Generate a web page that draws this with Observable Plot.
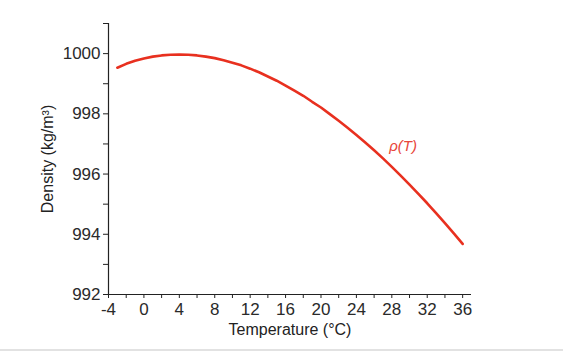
<!DOCTYPE html>
<html>
<head>
<meta charset="utf-8">
<script src="https://cdn.jsdelivr.net/npm/d3@7"></script>
<script src="https://cdn.jsdelivr.net/npm/@observablehq/plot@0.6"></script>
<style>
  html, body { margin: 0; padding: 0; background: #fff; }
  #chart svg { display: block; }
  #rule { height: 2px; background: #e2e2e2; width: 563px; }
</style>
</head>
<body>
<div id="chart"></div>
<div id="rule"></div>
<script>
const temperatures = [-3,-2,-1,0,1,2,3,4,5,6,7,8,9,10,11,12,13,14,15,16,17,18,19,20,21,22,23,24,25,26,27,28,29,30,31,32,33,34,35,36];
const densities = [999.53,999.66,999.76,999.84,999.90,999.94,999.96,999.97,999.96,999.94,999.90,999.85,999.78,999.70,999.61,999.50,999.38,999.24,999.10,998.94,998.77,998.60,998.40,998.21,997.99,997.77,997.54,997.30,997.05,996.79,996.52,996.24,995.95,995.65,995.34,995.03,994.70,994.37,994.03,993.68];
const xMajorTicks = [-4,0,4,8,12,16,20,24,28,32,36];
const xMinorTicks = [-2,2,6,10,14,18,22,26,30,34];
const yMajorTicks = [992,994,996,998,1000];
const yMinorTicks = [993,995,997,999,1001];
const seriesLabel = "ρ(T)";
const labelT = 27.7;
const labelDensity = 996.94;
const xTitle = "Temperature (°C)";
const yTitle = "Density (kg/m³)";

const data = temperatures.map((t, i) => ({t, d: densities[i]}));
const red = "#e8301f";
const axisColor = "#222";

const plot = Plot.plot({
  width: 563,
  height: 349,
  marginLeft: 108,
  marginRight: 92,
  marginTop: 23,
  marginBottom: 55,
  style: {fontFamily: "'Liberation Sans', Arial, sans-serif", fontSize: "16px", color: axisColor, background: "#fff"},
  x: {domain: [-4, 37]},
  y: {domain: [992, 1001]},
  marks: [
    Plot.axisX({ticks: xMajorTicks, tickSize: 4, tickPadding: 4, fontSize: 17, fill: "#2a2a2a", tickFormat: d => d < 0 ? "-" + Math.abs(d) : String(d), label: null, stroke: axisColor}),
    Plot.axisX({ticks: xMinorTicks, tickSize: 4, tickFormat: () => "", label: null, stroke: axisColor}),
    Plot.axisY({ticks: yMajorTicks, tickSize: 5, tickPadding: 3, fontSize: 17, fill: "#2a2a2a", tickFormat: d => String(d), label: null, stroke: axisColor}),
    Plot.axisY({ticks: yMinorTicks, tickSize: 5, tickFormat: () => "", label: null, stroke: axisColor}),
    Plot.ruleY([992], {stroke: axisColor, strokeWidth: 1}),
    Plot.ruleX([-4], {stroke: axisColor, strokeWidth: 1.2}),
    Plot.line(data, {x: "t", y: "d", stroke: red, strokeWidth: 2.6}),
    Plot.text([seriesLabel], {x: labelT, y: labelDensity, text: d => d, fill: "#e8463a", fontStyle: "italic", fontSize: 15, textAnchor: "start"}),
    Plot.text([xTitle], {x: 16.5, y: 992, dy: 35, text: d => d, fill: axisColor, fontSize: 16}),
    Plot.text([yTitle], {frameAnchor: "left", textAnchor: "middle", dx: -61, text: d => d, fill: axisColor, fontSize: 16, rotate: -90})
  ]
});
document.getElementById("chart").appendChild(plot);
</script>
</body>
</html>
